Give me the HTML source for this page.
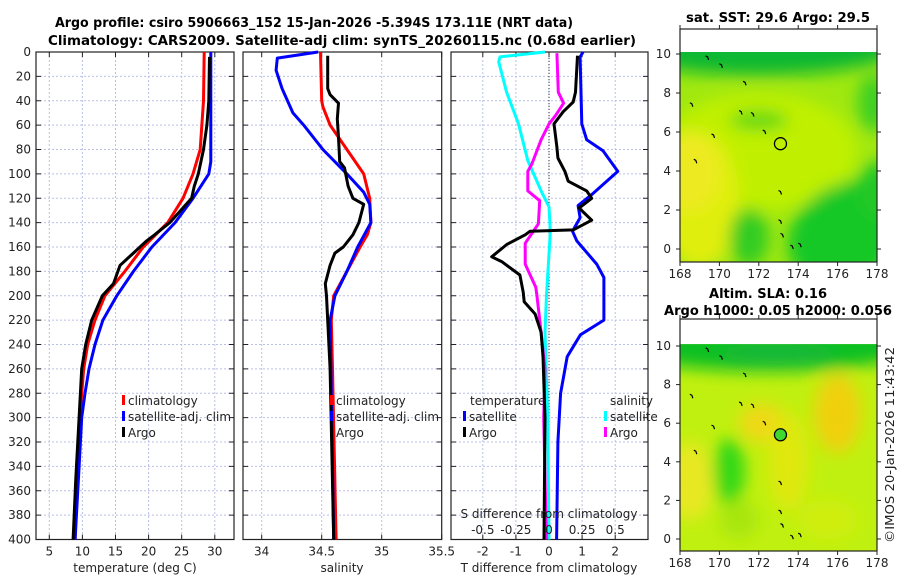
<!DOCTYPE html>
<html><head><meta charset="utf-8"><style>
body{margin:0;background:#fff;}
svg{display:block;font-family:"DejaVu Sans","Liberation Sans",sans-serif;}
.tk{font-size:12px;fill:#222;}
.ttl{font-size:13px;font-weight:bold;fill:#000;}
</style></head><body>
<svg id="c" width="900" height="580" viewBox="0 0 900 580">
<text class="ttl" x="314" y="27" text-anchor="middle" textLength="518" lengthAdjust="spacingAndGlyphs">Argo profile: csiro 5906663_152 15-Jan-2026 -5.394S 173.11E (NRT data)</text>
<text class="ttl" x="342" y="45" text-anchor="middle" textLength="588" lengthAdjust="spacingAndGlyphs">Climatology: CARS2009. Satellite-adj clim: synTS_20260115.nc (0.68d earlier)</text>
<g id="panels"></g>
<g id="maps"></g>
<text x="894" y="445" class="tk" font-size="12" text-anchor="middle" transform="rotate(-90 894 445)" textLength="196" lengthAdjust="spacingAndGlyphs">©IMOS 20-Jan-2026 11:43:42</text>
</svg>
<script>
// ---- data (depth in m) ----
const tClimDepth=[0,40,80,100,120,140,160,180,200,220,240,260,300,350,400];
const tClimVal=[28.4,28.3,27.8,26.7,25.2,22.9,19.2,16.4,13.4,11.9,10.8,10.2,9.6,9.2,8.9];
const tSatDepth=[0,90,100,120,140,160,180,200,220,240,260,280,300,340,400];
const tSatVal=[29.4,29.4,29.1,26.7,24.0,20.5,17.7,15.2,13.1,11.9,11.0,10.4,9.9,9.5,8.9];
const tArgoDepth=[4,40,60,80,100,110,120,140,150,155,165,175,190,200,220,240,260,300,350,400];
const tArgoVal=[29.2,29.1,28.8,28.3,27.5,26.9,26.5,23.2,20.9,19.7,17.7,15.7,14.7,13.0,11.4,10.5,9.9,9.5,9.0,8.6];
const sClimDepth=[0,40,45,60,80,100,120,140,150,160,180,200,220,260,400];
const sClimVal=[34.49,34.50,34.51,34.57,34.71,34.85,34.90,34.91,34.88,34.82,34.71,34.60,34.58,34.59,34.62];
const sSatDepth=[0,5,15,30,50,60,80,100,115,125,140,160,180,200,220,400];
const sSatVal=[34.47,34.13,34.12,34.17,34.26,34.35,34.51,34.71,34.85,34.90,34.91,34.80,34.71,34.61,34.57,34.60];
const sArgoDepth=[3,30,35,42,55,70,90,95,110,120,125,140,150,160,165,175,190,200,220,260,400];
const sArgoVal=[34.55,34.55,34.57,34.64,34.63,34.64,34.65,34.69,34.72,34.76,34.85,34.81,34.76,34.68,34.61,34.57,34.53,34.54,34.55,34.57,34.60];
const dTSatDepth=[0,4,59,72,81,98,117,126,136,147,155,174,185,201,220,232,250,280,320,400];
const dTSatVal=[1.03,0.94,0.99,1.14,1.63,2.08,1.29,0.88,0.94,0.71,0.84,1.44,1.66,1.66,1.66,0.95,0.55,0.35,0.27,0.23];
const dTArgoDepth=[3,33,41,49,59,78,87,98,106,114,120,128,138,146,147,150,158,168,172,183,197,205,215,230,250,300,400];
const dTArgoVal=[0.86,0.80,0.73,0.43,0.15,0.24,0.27,0.48,0.58,1.14,1.29,0.91,1.29,0.73,-0.57,-0.72,-1.28,-1.73,-1.43,-0.88,-0.78,-0.75,-0.42,-0.24,-0.18,-0.12,-0.15];
const dSSatDepth=[0,4,8,33,59,89,114,127,148,201,230,300,400];
const dSSatVal=[-0.03,-0.37,-0.38,-0.32,-0.23,-0.16,-0.06,0,0.01,-0.02,-0.03,-0.01,0];
const dSArgoDepth=[1,33,42,52,59,72,92,98,114,122,141,157,174,193,201,230,260,300,400];
const dSArgoVal=[0.06,0.07,0.11,0.05,0,-0.06,-0.13,-0.16,-0.16,-0.07,-0.08,-0.18,-0.18,-0.10,-0.09,-0.06,-0.03,-0.04,-0.02];
const depthTicks=[0,20,40,60,80,100,120,140,160,180,200,220,240,260,280,300,320,340,360,380,400];
const tTicks=[5,10,15,20,25,30];
const sTicks=[34,34.5,35,35.5];
const dTTicks=[-2,-1,0,1,2];
const dSTicks=[-0.5,-0.25,0,0.25,0.5];
const dSTickLabels=["-0.5","-0.25","0","0.25","0.5"];
const lonTicks=[168,170,172,174,176,178];
const latTicks=[0,2,4,6,8,10];

const NS='http://www.w3.org/2000/svg';
function mk(tag,attrs,parent){const e=document.createElementNS(NS,tag);for(const k in attrs)e.setAttribute(k,attrs[k]);parent.appendChild(e);return e;}
const P=document.getElementById('panels');
const yTop=52,yBot=539.5;
const yD=d=>yTop+d*(yBot-yTop)/400;
function panel(x0,x1,xs,ticks,labs,name){
  const g=mk('g',{},P);
  
  
  for(const d of depthTicks){mk('line',{x1:x0,x2:x1,y1:yD(d),y2:yD(d),stroke:'#b9c0e6','stroke-dasharray':'2,2','stroke-width':1},g);}
  ticks.forEach(v=>{const x=xs(v);if(x>x0+1&&x<x1-1)mk('line',{x1:x,x2:x,y1:yTop,y2:yBot,stroke:'#b9c0e6','stroke-dasharray':'2,2','stroke-width':1},g);});
  const fr=mk('rect',{x:x0,y:yTop,width:x1-x0,height:yBot-yTop,fill:'none',stroke:'#222','stroke-width':1.2},g);
  
  
  for(const d of depthTicks){mk('line',{x1:x0,x2:x0+5,y1:yD(d),y2:yD(d),stroke:'#222'},g);mk('line',{x1:x1-5,x2:x1,y1:yD(d),y2:yD(d),stroke:'#222'},g);}
  ticks.forEach((v,i)=>{const x=xs(v);mk('line',{x1:x,x2:x,y1:yBot,y2:yBot-5,stroke:'#222'},g);mk('line',{x1:x,x2:x,y1:yTop,y2:yTop+5,stroke:'#222'},g);
    const t=mk('text',{x:x,y:yBot+16,'text-anchor':'middle',class:'tk','font-size':'12.5'},g);t.textContent=labs?labs[i]:String(v);
    
    });
  return g;
}
function line(g,xs,depths,vals,color,name,w){
  const pts=depths.map((d,i)=>xs(vals[i]).toFixed(1)+','+yD(d).toFixed(1)).join(' ');
  const l=mk('polyline',{points:pts,fill:'none',stroke:color,'stroke-width':w||3,'stroke-linejoin':'round'},g);
  
  
}
function txt(g,x,y,s,name,opts){const t=mk('text',Object.assign({x:x,y:y,class:'tk'},opts||{}),g);t.textContent=s;
  
  return t;}
function legEntry(g,x,y,color,label,name){
  const m=mk('rect',{x:x,y:y-10,width:3,height:10,fill:color},g);
  
  
  txt(g,x+6,y,label,name,{'font-size':'13'});
}
depthTicks.forEach(d=>{txt(P,31,yD(d)+4,String(d),'y-tick-label',{'text-anchor':'end','font-size':'12.5'});});
// panel 1 temperature
const xT=v=>49.3+(v-5)*6.62;
const g1=panel(36,234,xT,tTicks,null,'temperature-panel');
line(g1,xT,tClimDepth,tClimVal,'#f00','temp-climatology-line');
line(g1,xT,tSatDepth,tSatVal,'#00f','temp-satellite-line');
line(g1,xT,tArgoDepth,tArgoVal,'#000','temp-argo-line');
legEntry(g1,122,405,'#f00','climatology','legend-climatology');
legEntry(g1,122,421,'#00f','satellite-adj. clim','legend-satellite');
legEntry(g1,122,437,'#000','Argo','legend-argo');
txt(P,135,572,'temperature (deg C)','x-axis-title-temperature',{'text-anchor':'middle','font-size':'13.5'});
// panel 2 salinity
const xS=v=>261.7+(v-34)*120;
const g2=panel(243,441.7,xS,sTicks,null,'salinity-panel');
line(g2,xS,sClimDepth,sClimVal,'#f00','sal-climatology-line');
line(g2,xS,sSatDepth,sSatVal,'#00f','sal-satellite-line');
line(g2,xS,sArgoDepth,sArgoVal,'#000','sal-argo-line');
legEntry(g2,330,405,'#f00','climatology','legend-climatology');
legEntry(g2,330,421,'#00f','satellite-adj. clim','legend-satellite');
legEntry(g2,330,437,'#000','Argo','legend-argo');
txt(P,342,572,'salinity','x-axis-title-salinity',{'text-anchor':'middle','font-size':'13.5'});
// panel 3 differences
const xDT=v=>549+v*33.1;
const xDS=v=>549+v*132.4;
const g3=panel(451,648,xDT,dTTicks,null,'difference-panel');
mk('line',{x1:549,x2:549,y1:yTop,y2:yBot,stroke:'#333','stroke-dasharray':'1,2','stroke-width':1},g3);
line(g3,xDS,dSSatDepth,dSSatVal,'#0ff','sdiff-satellite-line');
line(g3,xDS,dSArgoDepth,dSArgoVal,'#f0f','sdiff-argo-line');
line(g3,xDT,dTSatDepth,dTSatVal,'#00f','tdiff-satellite-line');
line(g3,xDT,dTArgoDepth,dTArgoVal,'#000','tdiff-argo-line');
txt(g3,470,405,'temperature','legend-title-temperature',{'font-size':'13'});
txt(g3,610,405,'salinity','legend-title-salinity',{'font-size':'13'});
legEntry(g3,463,421,'#00f','satellite','legend-t-satellite');
legEntry(g3,463,437,'#000','Argo','legend-t-argo');
legEntry(g3,604,421,'#0ff','satellite','legend-s-satellite');
legEntry(g3,604,437,'#f0f','Argo','legend-s-argo');
txt(g3,549,518,'S difference from climatology','s-axis-title',{'text-anchor':'middle','font-size':'13.5'});
dSTicks.forEach((v,i)=>txt(g3,xDS(v),534,dSTickLabels[i],'s-tick-label',{'text-anchor':'middle','font-size':'13'}));
txt(P,549,572,'T difference from climatology','x-axis-title-tdiff',{'text-anchor':'middle','font-size':'13.5'});

// ---- maps ----
const M=document.getElementById('maps');
const defs=mk('defs',{},M);
const f=mk('filter',{id:'bl',x:'-50%',y:'-50%',width:'200%',height:'200%'},defs);
mk('feGaussianBlur',{stdDeviation:'8'},f);
const coast=[[169.3,9.9],[170,9.5],[171.2,8.6],[171,7.1],[171.6,7.0],[168.5,7.5],[169.6,5.9],[168.7,4.6],[173,3.0],[173,1.5],[173.1,0.8],[173.6,0.2],[174,0.3],[172.2,6.1],[167.8,5.6]];
function map(y0,y1,yLat,name,blobs,base,circleFill,titleLines){
  const g=mk('g',{},M);
  
  
  const xL=v=>680+(v-168)*19.7;
  const cid=name+'-clip';
  const cp=mk('clipPath',{id:cid},defs);
  mk('rect',{x:680,y:yLat(10.1),width:197,height:y1-yLat(10.1)},cp);
  const inner=mk('g',{'clip-path':'url(#'+cid+')'},g);
  mk('rect',{x:680,y:yLat(10.1),width:197,height:y1-yLat(10.1),fill:base},inner);
  const bg=mk('g',{filter:'url(#bl)'},inner);
  blobs.forEach(b=>mk('ellipse',{cx:xL(b[0]),cy:yLat(b[1]),rx:b[2]*19.7,ry:b[3]*19.5,fill:b[4],transform:'rotate('+(b[5]||0)+' '+xL(b[0])+' '+yLat(b[1])+')'},bg));
  coast.forEach(c=>mk('path',{d:'M'+xL(c[0])+' '+yLat(c[1])+' l2 1 l1 3',stroke:'#000','stroke-width':1.2,fill:'none'},inner));
  const fr=mk('rect',{x:680,y:y0,width:197,height:y1-y0,fill:'none',stroke:'#222','stroke-width':1.2},g);
  
  
  lonTicks.forEach(v=>{const x=xL(v);mk('line',{x1:x,x2:x,y1:y1,y2:y1+4,stroke:'#222'},g);mk('line',{x1:x,x2:x,y1:y0,y2:y0-4,stroke:'#222'},g);
    txt(g,x,y1+16,String(v),'lon-tick-label',{'text-anchor':'middle','font-size':'12.5'});});
  latTicks.forEach(v=>{const y=yLat(v);mk('line',{x1:676,x2:680,y1:y,y2:y,stroke:'#222'},g);mk('line',{x1:877,x2:881,y1:y,y2:y,stroke:'#222'},g);
    txt(g,671,y+4,String(v),'lat-tick-label',{'text-anchor':'end','font-size':'12.5'});});
  const c=mk('circle',{cx:xL(173.1),cy:yLat(5.4),r:6,fill:circleFill,stroke:'#000','stroke-width':1.3},g);
  
  
  titleLines.forEach(t=>{const e=mk('text',{x:t[1],y:t[2],'text-anchor':'middle',class:'ttl',textLength:t[3],lengthAdjust:'spacingAndGlyphs'},g);e.textContent=t[0];
    
    });
}
map(29,262,v=>249-v*19.5,'sst-map',[
 [172,5,5,3,'#c0f000'],[169,2.5,2,3.5,'#e0ee10'],[168.5,4,1.5,2,'#eeea20'],
 [176.5,0.8,3.2,2.5,'#14c828',-30],[178,3,1,1.5,'#20c828'],[172,10.3,7,1.4,'#10b830'],[177.8,7.5,0.8,1.5,'#40d020'],[171.5,0.6,1,1.5,'#30cc20'],[172,6.6,1.5,0.5,'#60d818']
],'#a0e810','none',[['sat. SST: 29.6 Argo: 29.5',778,22,184]]);
map(319,551,v=>539-v*19.3,'sla-map',[
 [172.5,10.2,8,1.5,'#10c020'],[173,9.6,3,0.6,'#18b838'],[176,6.5,1.2,2,'#f0d010'],[172.2,6,1.2,1,'#f0d818'],[173.5,4,1,2.5,'#e0e810'],
 [170.5,3.5,0.8,1.7,'#30d818'],[168.5,3,1.2,2,'#e8e820'],[175.5,1,1.5,1,'#d0ee10'],[171,1,1,1,'#a8e610']
],'#c0f010','#40d830',[['Altim. SLA: 0.16',768,298,118],['Argo h1000: 0.05 h2000: 0.056',778,315,228]]);
</script>
</body></html>
